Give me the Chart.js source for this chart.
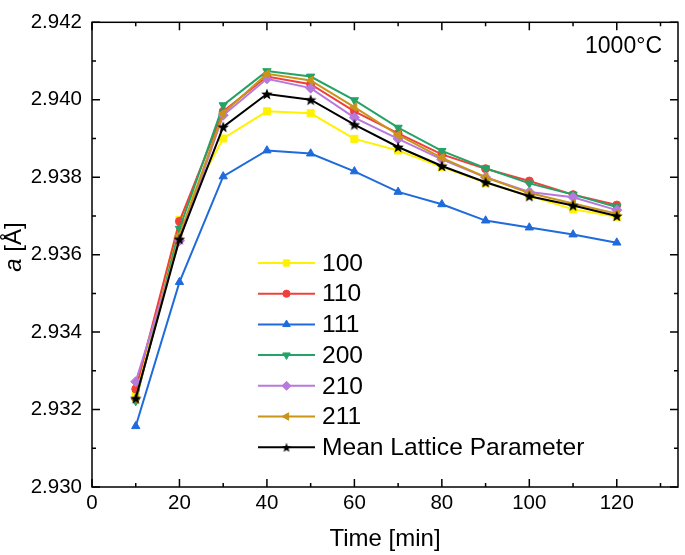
<!DOCTYPE html>
<html>
<head>
<meta charset="utf-8">
<script src="https://cdn.jsdelivr.net/npm/chart.js@4.4.1/dist/chart.umd.min.js"></script>
<style>
  html, body { margin: 0; padding: 0; background: #fff; }
</style>
</head>
<body>
<canvas id="chart_" width="685" height="555"></canvas>
<script>
// time in minutes
const times = [10, 20, 30, 40, 50, 60, 70, 80, 90, 100, 110, 120];
const series_names = ['100', '110', '111', '200', '210', '211', 'Mean Lattice Parameter'];

// lattice parameter a [Å] per reflection
const a_100 = [2.93235, 2.93690, 2.93900, 2.93970, 2.93965, 2.93899, 2.93869, 2.93826, 2.93786, 2.93752, 2.93717, 2.93698];
const a_110 = [2.93253, 2.93686, 2.93970, 2.94060, 2.94040, 2.93970, 2.93913, 2.93859, 2.93822, 2.93790, 2.93755, 2.93728];
const a_111 = [2.93157, 2.93529, 2.93802, 2.93869, 2.93861, 2.93815, 2.93762, 2.93730, 2.93688, 2.93670, 2.93652, 2.93631];
const a_200 = [2.93222, 2.93667, 2.93986, 2.94074, 2.94060, 2.93999, 2.93928, 2.93868, 2.93823, 2.93784, 2.93755, 2.93723];
const a_210 = [2.93272, 2.93636, 2.93960, 2.94054, 2.94030, 2.93954, 2.93899, 2.93846, 2.93800, 2.93762, 2.93748, 2.93715];
const a_211 = [2.93226, 2.93650, 2.93965, 2.94067, 2.94050, 2.93981, 2.93909, 2.93850, 2.93800, 2.93759, 2.93732, 2.93706];
const a_mean = [2.93229, 2.93640, 2.93930, 2.94015, 2.94000, 2.93936, 2.93878, 2.93829, 2.93787, 2.93751, 2.93727, 2.93700];

const x_ticks = [0, 20, 40, 60, 80, 100, 120];
const x_minor = [10, 30, 50, 70, 90, 110, 130];
const y_ticks = [2.930, 2.932, 2.934, 2.936, 2.938, 2.940, 2.942];
const y_minor = [2.931, 2.933, 2.935, 2.937, 2.939, 2.941];

const all_values = [a_100, a_110, a_111, a_200, a_210, a_211, a_mean];
const colors = ['#FFF200', '#F0403C', '#1F6BDB', '#25A366', '#B879DD', '#C99418', '#000000'];

// filled five point star for the mean series
function makeStar(size, color) {
  const c = document.createElement('canvas');
  c.width = size; c.height = size;
  const ctx = c.getContext('2d');
  const r = size / 2, ri = r * 0.42;
  ctx.beginPath();
  for (let i = 0; i < 10; i++) {
    const rad = i % 2 == 0 ? r : ri;
    const ang = -Math.PI / 2 + i * Math.PI / 5;
    const px = r + rad * Math.cos(ang), py = r + 0.6 + rad * Math.sin(ang);
    if (i == 0) ctx.moveTo(px, py); else ctx.lineTo(px, py);
  }
  ctx.closePath();
  ctx.fillStyle = color;
  ctx.fill();
  return c;
}
const star = makeStar(12, '#000');
const star_small = makeStar(10, '#000');

const point_styles = ['rect', 'circle', 'triangle', 'triangle', 'rectRot', 'triangle', star];
const point_rot = [0, 0, 0, 180, 0, -90, 0];
const point_radius = [5, 4, 4.8, 4.8, 5, 4.8, 6];

const datasets = all_values.map((vals, i) => ({
  label: series_names[i],
  data: times.map((t, j) => ({ x: t, y: vals[j] })),
  borderColor: colors[i],
  backgroundColor: colors[i],
  borderWidth: 2,
  pointStyle: point_styles[i],
  rotation: point_rot[i],
  pointRadius: point_radius[i],
  pointBorderWidth: 1,
  order: all_values.length - i,
}));

const FONT = 'Liberation Sans, Arial, sans-serif';

const frameTicks = {
  id: 'frameTicks',
  afterDraw(chart) {
    const { ctx, chartArea: a, scales } = chart;
    ctx.save();
    ctx.strokeStyle = '#000';
    ctx.lineWidth = 1.5;
    ctx.strokeRect(a.left, a.top, a.right - a.left, a.bottom - a.top);
    ctx.beginPath();
    const tickX = (v, len) => {
      const px = scales.x.getPixelForValue(v);
      ctx.moveTo(px, a.bottom); ctx.lineTo(px, a.bottom - len);
      ctx.moveTo(px, a.top); ctx.lineTo(px, a.top + len);
    };
    const tickY = (v, len) => {
      const py = scales.y.getPixelForValue(v);
      ctx.moveTo(a.left, py); ctx.lineTo(a.left + len, py);
      ctx.moveTo(a.right, py); ctx.lineTo(a.right - len, py);
    };
    x_ticks.forEach(v => tickX(v, 8));
    x_minor.forEach(v => tickX(v, 4));
    y_ticks.forEach(v => tickY(v, 8));
    y_minor.forEach(v => tickY(v, 4));
    ctx.stroke();
    ctx.restore();
  }
};

const extraText = {
  id: 'extraText',
  afterDraw(chart) {
    const ctx = chart.ctx;
    ctx.save();
    ctx.fillStyle = '#000';
    // temperature note
    ctx.font = '23px ' + FONT;
    ctx.textAlign = 'right';
    ctx.textBaseline = 'middle';
    ctx.fillText('1000°C', 662, 47);

    // y axis title, italic a
    ctx.translate(14, 247);
    ctx.rotate(-Math.PI / 2);
    ctx.textAlign = 'left';
    ctx.font = 'italic 24px ' + FONT;
    const w1 = ctx.measureText('a').width;
    ctx.font = '24px ' + FONT;
    const w2 = ctx.measureText(' [Å]').width;
    const x0 = -(w1 + w2) / 2;
    ctx.font = 'italic 24px ' + FONT;
    ctx.fillText('a', x0, 0);
    ctx.font = '24px ' + FONT;
    ctx.fillText(' [Å]', x0 + w1, 0);
    ctx.restore();
  }
};

const innerLegend = {
  id: 'innerLegend',
  afterDraw(chart) {
    const ctx = chart.ctx;
    ctx.save();
    ctx.font = '24.6px ' + FONT;
    ctx.textAlign = 'left';
    ctx.textBaseline = 'middle';
    chart.data.datasets.forEach((ds, i) => {
      const y = 263 + i * 30.7;
      ctx.strokeStyle = ds.borderColor;
      ctx.fillStyle = ds.backgroundColor;
      ctx.lineWidth = 2;
      ctx.beginPath();
      ctx.moveTo(258, y); ctx.lineTo(315, y);
      ctx.stroke();
      ctx.lineWidth = 1;
      Chart.helpers.drawPoint(ctx, {
        pointStyle: i == 6 ? star_small : ds.pointStyle,
        rotation: ds.rotation,
        radius: ds.pointRadius * 0.9,
        borderWidth: 1
      }, 286.5, y);
      ctx.fillStyle = '#000';
      ctx.fillText(ds.label, 322, y + 1);
    });
    ctx.restore();
  }
};

new Chart(document.getElementById('chart_'), {
  type: 'line',
  data: { datasets },
  options: {
    responsive: false,
    devicePixelRatio: 1,
    animation: false,
    layout: { padding: { top: 8, right: 5, left: 0, bottom: 0 } },
    plugins: {
      legend: { display: false },
      tooltip: { enabled: false },
    },
    scales: {
      x: {
        type: 'linear',
        min: 0,
        max: 134,
        afterBuildTicks: (s) => { s.ticks = x_ticks.map(v => ({ value: v })); },
        afterFit: (s) => { s.height = 68; },
        grid: { display: false, drawTicks: false },
        border: { display: false },
        ticks: { color: '#000', font: { family: FONT, size: 20.5 }, padding: 4, maxRotation: 0 },
        title: { display: true, text: 'Time [min]', color: '#000', font: { family: FONT, size: 24 }, padding: { top: 0, bottom: 1 } },
      },
      y: {
        min: 2.930,
        max: 2.942,
        afterBuildTicks: (s) => { s.ticks = y_ticks.map(v => ({ value: v })); },
        afterFit: (s) => { s.width = 92; },
        grid: { display: false, drawTicks: false },
        border: { display: false },
        ticks: { color: '#000', font: { family: FONT, size: 20.5 }, padding: 10, callback: (v) => v.toFixed(3) },
      }
    }
  },
  plugins: [frameTicks, extraText, innerLegend]
});
</script>
</body>
</html>
